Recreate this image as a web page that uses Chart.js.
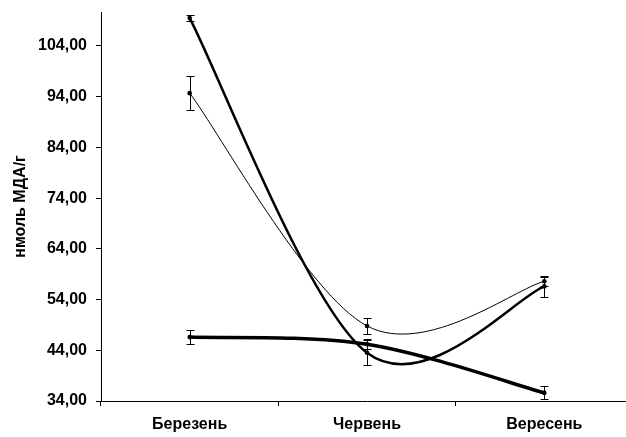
<!DOCTYPE html>
<html>
<head>
<meta charset="utf-8">
<script src="https://cdn.jsdelivr.net/npm/chart.js@4.4.1/dist/chart.umd.min.js"></script>
<style>
  html, body { margin: 0; padding: 0; background: #fff; overflow: hidden; }
  #wrap { width: 626px; height: 437px; overflow: hidden; }
  #chart { display: block; }
</style>
</head>
<body>
<div id="wrap"><canvas id="chart" width="637" height="437"></canvas></div>
<script>
const months = ['Березень', 'Червень', 'Вересень'];

// three series, means and +/- error
const seriesA = [109.5, 43.5, 56.6];
const errA = [0.6, 2.5, 2.0];
const seriesB = [94.7, 48.8, 57.6];
const errB = [3.4, 1.5, 0.9];
const seriesC = [46.6, 45.2, 35.6];
const errC = [1.4, 1.0, 1.3];

const yTicks = [34, 44, 54, 64, 74, 84, 94, 104];
const yMin = 34;
const yMax = 110.7;
const yTitle = 'нмоль МДА/г';

const errors = [errA, errB, errC];

function formatTick(v) {
    return v.toFixed(2).replace('.', ',');
}

// Excel-like smoothing: uniform Catmull-Rom control points on the point pixels
const excelSmooth = {
    id: 'excelSmooth',
    beforeDatasetsDraw(chart) {
        chart.data.datasets.forEach((ds, i) => {
            const meta = chart.getDatasetMeta(i);
            const line = meta.dataset;
            line.updateControlPoints(chart.chartArea, 'x');
            const pts = meta.data;
            const n = pts.length;
            pts.forEach((p, j) => {
                const prev = pts[Math.max(j - 1, 0)];
                const next = pts[Math.min(j + 1, n - 1)];
                const dx = (next.x - prev.x) / 6;
                const dy = (next.y - prev.y) / 6;
                p.cp1x = p.x - dx;
                p.cp1y = p.y - dy;
                p.cp2x = p.x + dx;
                p.cp2y = p.y + dy;
            });
        });
    }
};

// whiskers drawn through the scales after the lines
const errorBars = {
    id: 'errorBars',
    afterDatasetsDraw(chart) {
        const ctx = chart.ctx;
        const x = chart.scales.x;
        const y = chart.scales.y;
        ctx.save();
        ctx.strokeStyle = '#000';
        ctx.lineWidth = 1;
        chart.data.datasets.forEach((ds, i) => {
            const errs = errors[i];
            ds.data.forEach((v, j) => {
                const px = Math.round(x.getPixelForValue(j)) + 0.5;
                const top = Math.round(y.getPixelForValue(v + errs[j])) + 0.5;
                const bot = Math.round(y.getPixelForValue(v - errs[j])) + 0.5;
                ctx.beginPath();
                ctx.moveTo(px, top);
                ctx.lineTo(px, bot);
                ctx.moveTo(px - 4, top);
                ctx.lineTo(px + 4, top);
                ctx.moveTo(px - 4, bot);
                ctx.lineTo(px + 4, bot);
                ctx.stroke();
            });
        });
        ctx.restore();
    }
};

const font = { family: 'Liberation Sans', size: 16, weight: 'bold' };

new Chart(document.getElementById('chart'), {
    type: 'line',
    data: {
        labels: months,
        datasets: [
            { data: seriesA, borderWidth: 2.5 },
            { data: seriesB, borderWidth: 1 },
            { data: seriesC, borderWidth: 3.5 }
        ].map(d => Object.assign(d, {
            borderColor: '#000',
            backgroundColor: '#000',
            pointRadius: 2.3,
            pointBorderWidth: 0,
            fill: false,
            tension: 0.4
        }))
    },
    options: {
        responsive: false,
        animation: false,
        layout: { padding: { top: 12, right: 0, bottom: 0, left: 0 } },
        plugins: {
            legend: { display: false },
            tooltip: { enabled: false }
        },
        scales: {
            x: {
                offset: true,
                grid: {
                    offset: true,
                    drawOnChartArea: false,
                    color: '#000',
                    tickLength: 5
                },
                border: { color: '#000', width: 1 },
                ticks: { color: '#000', font: font, padding: 9, maxRotation: 0 },
                afterFit(scale) { scale.height = 36; }
            },
            y: {
                min: yMin,
                max: yMax,
                afterBuildTicks(scale) {
                    scale.ticks = yTicks.map(v => ({ value: v }));
                },
                grid: {
                    drawOnChartArea: false,
                    color: '#000',
                    tickLength: 5
                },
                border: { color: '#000', width: 1 },
                ticks: {
                    color: '#000',
                    font: font,
                    padding: 9,
                    callback: v => formatTick(v)
                },
                title: {
                    display: true,
                    text: yTitle,
                    color: '#000',
                    font: font,
                    padding: { top: 11, bottom: 0 }
                },
                afterFit(scale) {
                    scale.width = 101;
                    scale.paddingTop = 0;
                    scale.paddingBottom = 0;
                }
            }
        }
    },
    plugins: [excelSmooth, errorBars]
});
</script>
</body>
</html>
